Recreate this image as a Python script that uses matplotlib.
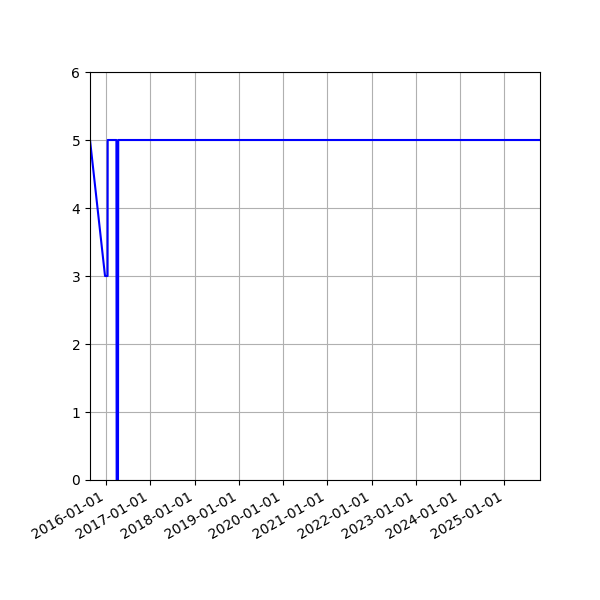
import matplotlib
matplotlib.use("Agg")
import matplotlib.pyplot as plt
import matplotlib.dates as mdates
import numpy as np

dates = [
    "2015-08-22",
    "2015-12-24",
    "2016-01-14",
    "2016-01-15",
    "2016-03-27",
    "2016-03-29",
    "2016-04-09",
    "2016-04-11",
    "2025-10-22",
]
values = [5, 3, 3, 5, 5, 0, 0, 5, 5]

x = np.array(dates, dtype="datetime64[D]")

fig, ax = plt.subplots(figsize=(6, 6), dpi=100)
ax.plot(x, values, color="blue", linewidth=1.5)

ax.set_xlim(x[0], x[-1])
ax.set_ylim(0, 6)
ax.xaxis.set_major_locator(mdates.YearLocator())
ax.xaxis.set_major_formatter(mdates.DateFormatter("%Y-%m-%d"))
ax.grid(True)

fig.autofmt_xdate()
plt.subplots_adjust(left=0.15, right=0.9, top=0.88, bottom=0.2)

plt.savefig("out.png")
